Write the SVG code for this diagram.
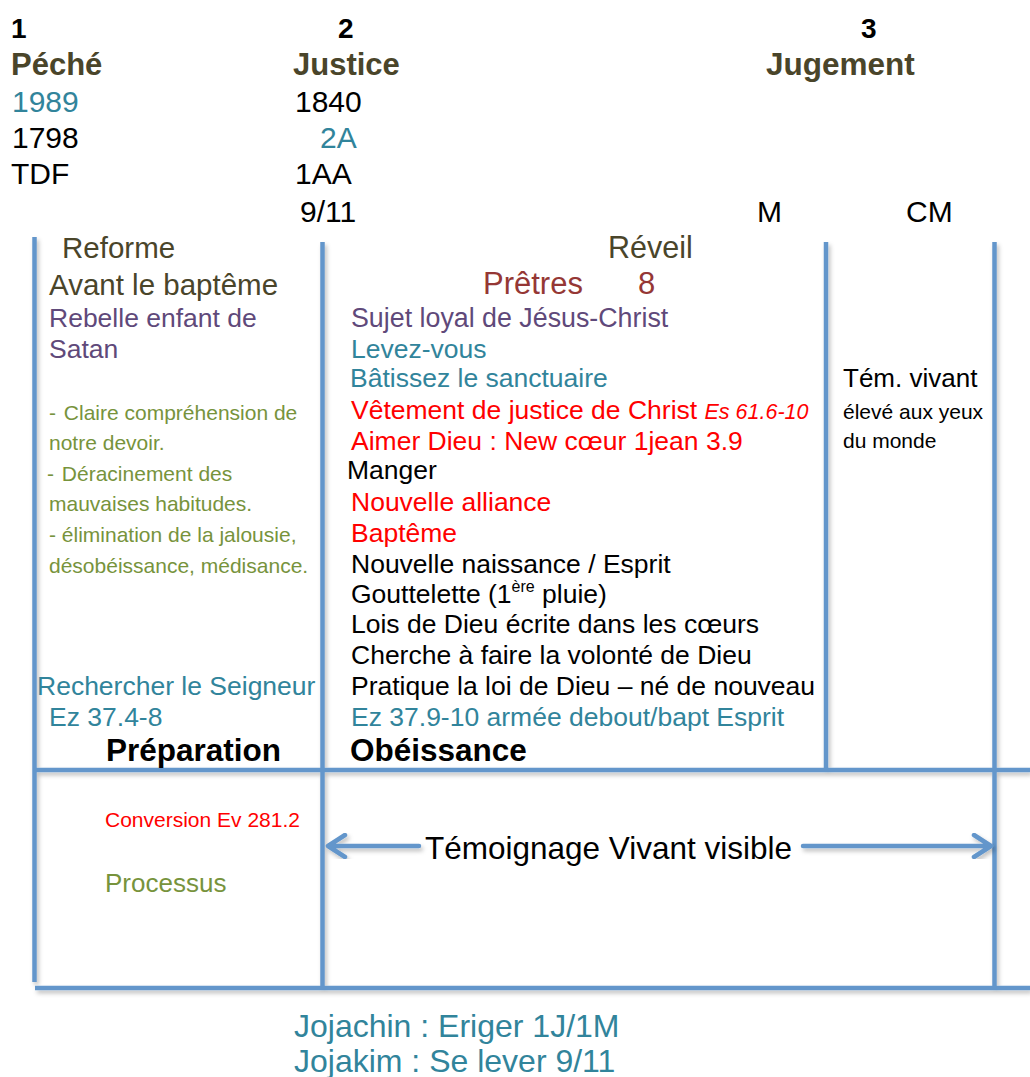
<svg xmlns="http://www.w3.org/2000/svg" width="1030" height="1077" viewBox="0 0 1030 1077">
<style>
text{font-family:"Liberation Sans",Arial,sans-serif;}
.b{font-weight:bold;}
.k{fill:#000000;}
.ol{fill:#4A452A;}
.tl{fill:#31849B;}
.pu{fill:#5F497A;}
.gr{fill:#77933C;}
.br{fill:#953735;}
.rd{fill:#FF0000;}
.ln{stroke:#6396CB;stroke-width:4.5;fill:none;}
.ar{stroke:#6396CB;stroke-width:4.5;fill:none;stroke-linecap:round;stroke-linejoin:round;}
</style>
<defs>
<filter id="sh" x="-5%" y="-5%" width="110%" height="110%">
<feDropShadow dx="2" dy="3" stdDeviation="2" flood-color="#000" flood-opacity="0.25"/>
</filter>
</defs>
<rect width="1030" height="1077" fill="#ffffff"/>

<g id="grid" filter="url(#sh)">
<line class="ln" x1="34.5" y1="237" x2="34.5" y2="982"/>
<line class="ln" x1="322.5" y1="242" x2="322.5" y2="990"/>
<line class="ln" x1="826" y1="242" x2="826" y2="770"/>
<line class="ln" x1="994.5" y1="242" x2="994.5" y2="990"/>
<line class="ln" x1="33" y1="770" x2="1030" y2="770"/>
<line class="ln" x1="35" y1="988" x2="1030" y2="988"/>
</g>

<g id="header">
<text class="b k" x="11" y="38" font-size="28">1</text>
<text class="b k" x="338" y="38" font-size="28">2</text>
<text class="b k" x="861" y="38" font-size="28">3</text>
<text class="b ol" x="11" y="75" font-size="31">Péché</text>
<text class="b ol" x="293" y="75" font-size="31">Justice</text>
<text class="b ol" x="766" y="75" font-size="31.5">Jugement</text>
<text class="tl" x="12" y="112" font-size="30">1989</text>
<text class="k" x="295" y="112" font-size="30">1840</text>
<text class="k" x="12" y="148" font-size="30">1798</text>
<text class="tl" x="320" y="148" font-size="30">2A</text>
<text class="k" x="11" y="184" font-size="30">TDF</text>
<text class="k" x="295" y="184" font-size="30">1AA</text>
<text class="k" x="300" y="222" font-size="30">9/11</text>
<text class="k" x="757" y="222" font-size="30">M</text>
<text class="k" x="906" y="222" font-size="30">CM</text>
</g>

<g id="col-preparation">
<text class="ol" x="62" y="258" font-size="29.5">Reforme</text>
<text class="ol" x="49" y="295" font-size="29.5">Avant le baptême</text>
<text class="pu" x="49" y="327" font-size="26.5">Rebelle enfant de</text>
<text class="pu" x="49" y="358" font-size="26.5">Satan</text>
<text class="gr" x="49" y="420" font-size="21">-<tspan dx="2"> Claire compréhension de</tspan></text>
<text class="gr" x="49" y="450" font-size="21">notre devoir.</text>
<text class="gr" x="47" y="481" font-size="21">-<tspan dx="2"> Déracinement des</tspan></text>
<text class="gr" x="49" y="511" font-size="21">mauvaises habitudes.</text>
<text class="gr" x="49" y="542" font-size="21">- élimination de la jalousie,</text>
<text class="gr" x="49" y="573" font-size="21">désobéissance, médisance.</text>
<text class="tl" x="37" y="695" font-size="26.5">Rechercher le Seigneur</text>
<text class="tl" x="49" y="726" font-size="26.5">Ez 37.4-8</text>
<text class="b k" x="106" y="761" font-size="31.5">Préparation</text>
</g>

<g id="col-obeissance">
<text class="ol" x="608" y="258" font-size="30.5">Réveil</text>
<text class="br" x="483" y="294" font-size="31">Prêtres</text>
<text class="br" x="638" y="294" font-size="31">8</text>
<text class="pu" x="351" y="327" font-size="26.8">Sujet loyal de Jésus-Christ</text>
<text class="tl" x="351" y="358" font-size="26.5">Levez-vous</text>
<text class="tl" x="350" y="387" font-size="26.5">Bâtissez le sanctuaire</text>
<text class="rd" x="351" y="419" font-size="26.5">Vêtement de justice de Christ <tspan font-style="italic" font-size="21.5">Es 61.6-10</tspan></text>
<text class="rd" x="351" y="450" font-size="26.5">Aimer Dieu : New cœur 1jean 3.9</text>
<text class="k" x="347" y="479" font-size="26.5">Manger</text>
<text class="rd" x="351" y="511" font-size="26.5">Nouvelle alliance</text>
<text class="rd" x="351" y="542" font-size="26.5">Baptême</text>
<text class="k" x="351" y="573" font-size="26.5">Nouvelle naissance / Esprit</text>
<text class="k" x="351" y="603" font-size="26.5">Gouttelette (1<tspan font-size="16" dy="-11">ère</tspan><tspan dy="11"> pluie)</tspan></text>
<text class="k" x="351" y="633" font-size="26.5">Lois de Dieu écrite dans les cœurs</text>
<text class="k" x="351" y="664" font-size="26.5">Cherche à faire la volonté de Dieu</text>
<text class="k" x="351" y="695" font-size="26.5">Pratique la loi de Dieu – né de nouveau</text>
<text class="tl" x="351" y="726" font-size="26.5">Ez 37.9-10 armée debout/bapt Esprit</text>
<text class="b k" x="350" y="761" font-size="31.5">Obéissance</text>
</g>

<g id="col-jugement">
<text class="k" x="843" y="387" font-size="26">Tém. vivant</text>
<text class="k" x="843" y="419" font-size="21">élevé aux yeux</text>
<text class="k" x="843" y="448" font-size="21">du monde</text>
</g>

<g id="bottom">
<text class="rd" x="105" y="827" font-size="21">Conversion Ev 281.2</text>
<text class="gr" x="105" y="892" font-size="26">Processus</text>
<text class="tl" x="294" y="1037" font-size="32">Jojachin : Eriger 1J/1M</text>
<text class="tl" x="294" y="1072" font-size="32">Jojakim : Se lever 9/11</text>
</g>

<g id="connectors" filter="url(#sh)">
<path class="ar" d="M419,846 H328 M345,835 L328,846 L345,857"/>
<path class="ar" d="M803,846 H991 M974,835 L991,846 L974,857"/>
</g>
<g id="arrow-label">
<text class="k" x="425" y="859" font-size="31.5">Témoignage Vivant visible</text>
</g>
</svg>
